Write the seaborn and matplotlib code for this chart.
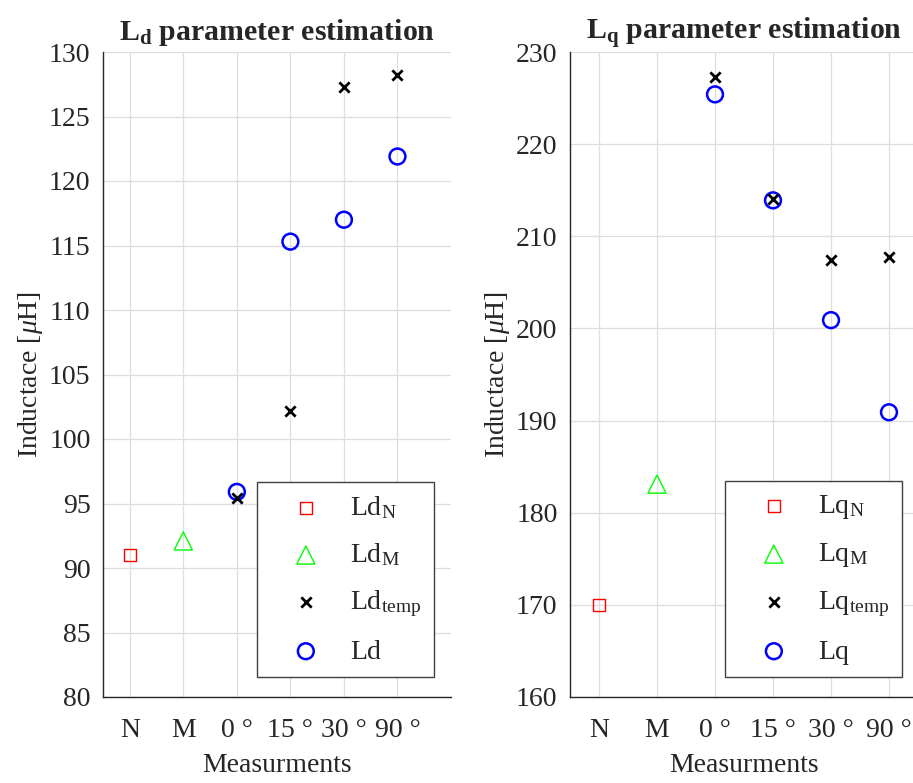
import numpy as np
import pandas as pd
import matplotlib
matplotlib.use("Agg")
import matplotlib.pyplot as plt
import seaborn as sns

# ---- data ----
categories = ["N", "M", "0 °", "15 °", "30 °", "90 °"]
angle_cats = ["0 °", "15 °", "30 °", "90 °"]

ld_N = [91.0]
ld_M = [92.1]
ld_temp = [95.4, 102.2, 127.3, 128.2]
ld_est = [95.9, 115.3, 117.0, 121.9]

lq_N = [170.0]
lq_M = [183.1]
lq_temp = [227.3, 214.0, 207.4, 207.8]
lq_est = [225.4, 213.9, 200.9, 190.9]

ld_ticks = list(range(80, 131, 5))
lq_ticks = list(range(160, 231, 10))

sns.set_style("white")
plt.rcParams["font.family"] = ["Liberation Serif", "DejaVu Serif"]
plt.rcParams["mathtext.fontset"] = "custom"
plt.rcParams["mathtext.rm"] = "Liberation Serif"
plt.rcParams["mathtext.it"] = "Liberation Serif:italic"
plt.rcParams["mathtext.bf"] = "Liberation Serif:bold"

FS = 20
AX_COL = "0.15"

fig = plt.figure(figsize=(9.13, 7.83), dpi=100)
axL = fig.add_axes([103 / 913, 86 / 783, 348 / 913, 645 / 783])
axR = fig.add_axes([570 / 913, 86 / 783, 348 / 913, 645 / 783])

pos = {c: i + 1 for i, c in enumerate(categories)}


def draw(ax, name, nvals, mvals, tvals, evals, ticks, xmax, title, legx):
    dN = pd.DataFrame({"x": [pos["N"]], "y": nvals})
    dM = pd.DataFrame({"x": [pos["M"]], "y": mvals})
    dT = pd.DataFrame({"x": [pos[c] for c in angle_cats], "y": tvals})
    dE = pd.DataFrame({"x": [pos[c] for c in angle_cats], "y": evals})
    sns.scatterplot(data=dN, x="x", y="y", ax=ax, marker="s", s=80,
                    facecolor="none", edgecolor=(1, 0, 0), linewidth=1.0,
                    label=name + r"$_{\mathrm{N}}$", zorder=3)
    sns.scatterplot(data=dM, x="x", y="y", ax=ax, marker="^", s=170,
                    facecolor="none", edgecolor=(0, 1, 0), linewidth=1.0,
                    label=name + r"$_{\mathrm{M}}$", zorder=3)
    sns.scatterplot(data=dT, x="x", y="y", ax=ax, marker="x", s=55,
                    color="black", linewidth=2.0,
                    label=name + r"$_{\mathrm{temp}}$", zorder=4)
    sns.scatterplot(data=dE, x="x", y="y", ax=ax, marker="o", s=130,
                    facecolor="none", edgecolor=(0, 0, 1), linewidth=1.8,
                    label=name, zorder=3)
    ax.set_xlim(0.5, xmax)
    ax.set_ylim(ticks[0], ticks[-1])
    ax.set_xticks(range(1, len(categories) + 1))
    ax.set_xticklabels(categories)
    ax.set_yticks(ticks)
    ax.set_axisbelow(True)
    ax.grid(True, color="0.87", linewidth=0.9)
    for s in ["top", "right"]:
        ax.spines[s].set_visible(False)
    for s in ["left", "bottom"]:
        ax.spines[s].set_color(AX_COL)
        ax.spines[s].set_linewidth(1.0)
    ax.tick_params(axis="both", direction="in", length=5, width=1.0,
                   colors=AX_COL, labelsize=FS)
    ax.tick_params(axis="y", pad=9)
    ax.tick_params(axis="x", pad=15)
    ax.set_xlabel("Measurments", fontsize=FS, color=AX_COL, labelpad=7)
    ax.set_ylabel(r"Inductace [$\mu$H]", fontsize=FS, color=AX_COL, labelpad=3)
    ax.set_title(title, fontsize=21.5, fontweight="bold", pad=9)
    leg = ax.legend(loc="lower right", bbox_to_anchor=(legx, 0.031),
                    borderaxespad=0, fontsize=FS, frameon=True, fancybox=False,
                    edgecolor="0.25", framealpha=1, borderpad=0.45,
                    handlelength=2.6, handletextpad=0.3, labelspacing=0.72,
                    scatterpoints=1)
    leg.get_frame().set_linewidth(1.0)


draw(axL, "Ld", ld_N, ld_M, ld_temp, ld_est, ld_ticks, 7.0,
     r"$\mathbf{L_d}$ parameter estimation", 0.951)
draw(axR, "Lq", lq_N, lq_M, lq_temp, lq_est, lq_ticks, 6.5,
     r"$\mathbf{L_q}$ parameter estimation", 0.954)

fig.savefig("out.png", dpi=100)
